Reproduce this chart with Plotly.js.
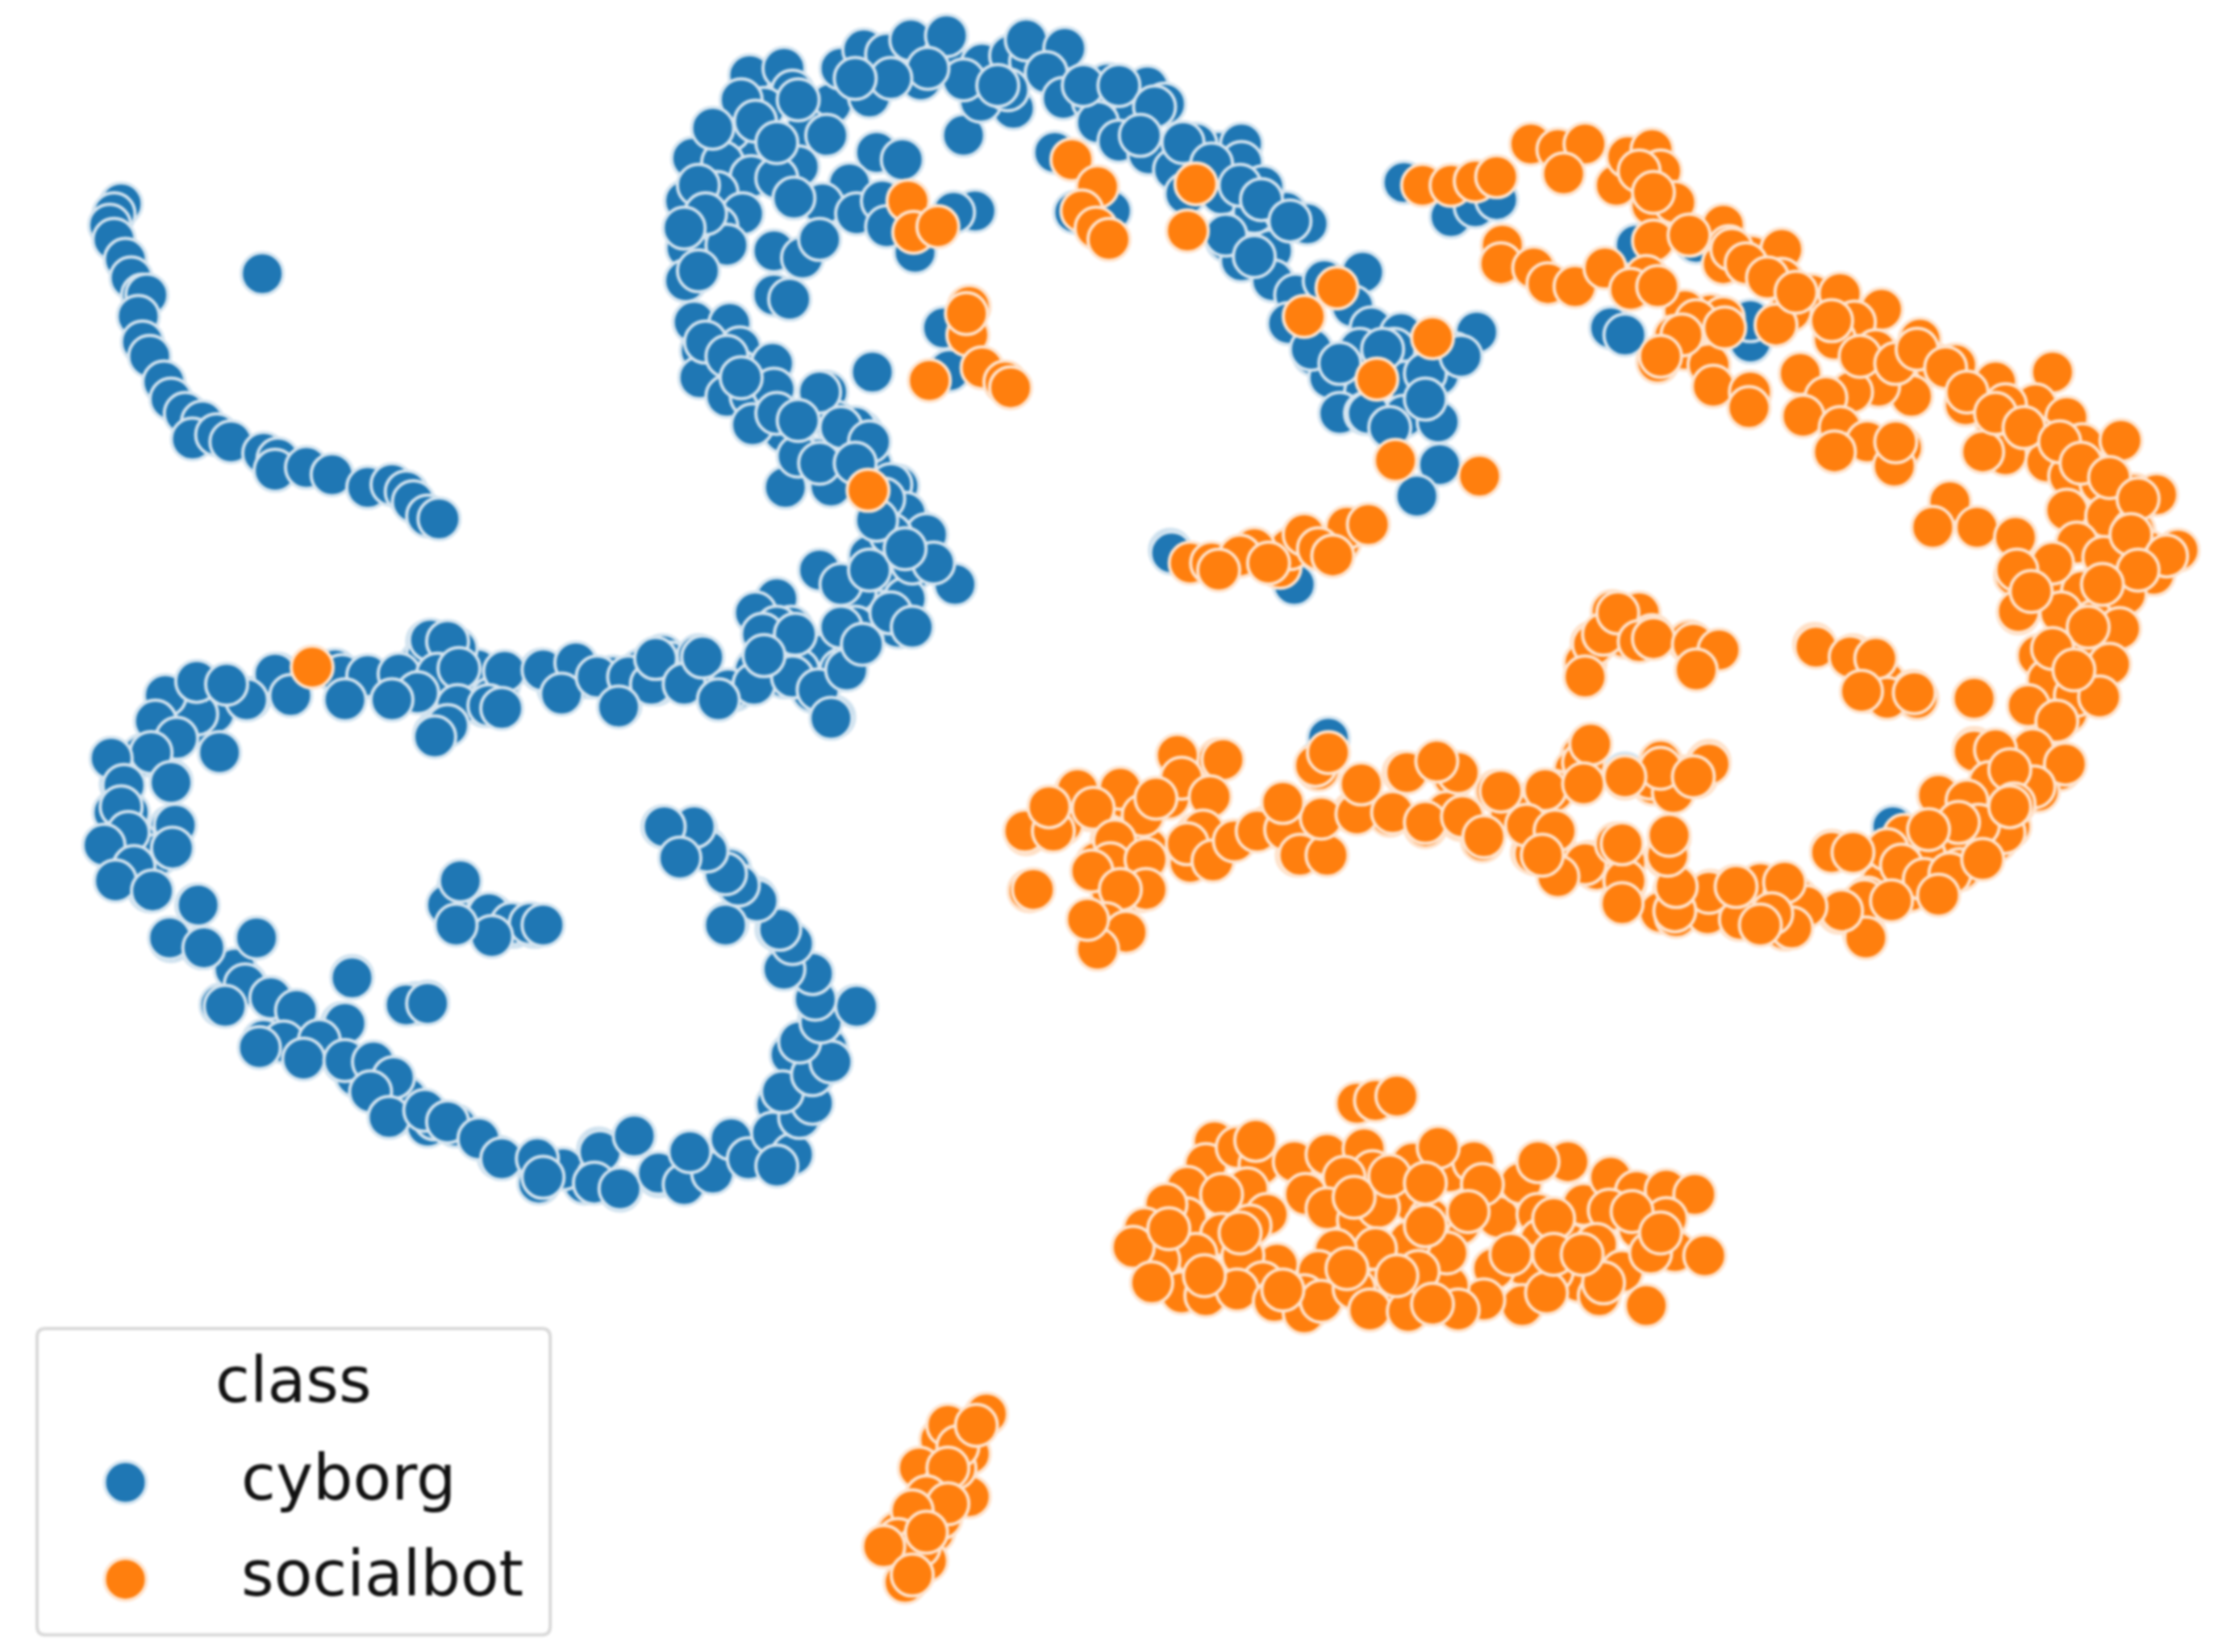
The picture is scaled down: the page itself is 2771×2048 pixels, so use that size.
<!DOCTYPE html>
<html>
<head>
<meta charset="utf-8">
<script src="https://cdn.plot.ly/plotly-3.0.1.min.js"></script>
<style>
html,body{margin:0;padding:0;background:#fff}
#chart{width:2771px;height:2048px;filter:blur(1.5px)}
</style>
</head>
<body>
<div id="chart"></div>
<script>
const cyborgX = [85,80,77,80,88,92,100,103,97,100,105,115,120,130,142,135,152,162,185,195,193,215,233,258,275,285,290,300,308,184,
526,550,556,536,583,590,606,622,639,662,646,664,689,709,723,720,747,734,610,566,523,512,486,507,560,527,545,503,481,521,615,633,596,577,601,557,503,482,510,543,563,575,481,543,554,487,512,492,519,491,518,542,510,527,543,580,586,550,528,604,574,588,611,551,583,630,625,640,618,648,612,676,711,688,707,676,651,746,767,777,796,805,817,770,785,806,824,855,871,871,839,832,857,880,902,917,886,861,892,871,893,909,929,956,949,904,962,922,954,983,978,933,958,987,1009,985,1009,940,958,1010,994,684,669,642,666,662,740,754,779,619,622,821,1036,1020,1000,
640,640,620,670,575,600,630,605,545,530,555,560,540,575,590,550,570,585,515,490,460,465,430,435,415,392,380,350,340,320,320,300,295,278,255,235,195,175,155,140,135,115,108,120,85,90,75,95,115,120,105,120,138,142,155,172,190,200,220,240,242,260,275,250,270,300,320,350,375,378,410,420,445,435,462,480,490,510,542,552,545,570,575,600,555,570,555,545,530,510,512,488,465,495,315,322,345,360,375,180,247,292,300,580,565,520,395,420,285,305,200,185,165,95,110,80,100,125,150,315,335,345,310,305,300,320,410,450,470,490,530,600,620,630,610,590,635,
822,908,932,925,1140,1328,1018,1035,1050,985,1130,1140,1228,1228,1148,1190,
600,575,590,560,575,610,625,635,650,625,640,655,610,625,640,600,590,545,535,560,
302,314,193,240,258,280,307,322,354,381,404,394,419,441,457,460,480,493,511,529,556,574,583,558,536,594,605,434,504,321,343,352,314,305,293,275,242,204,173,138,116,138,159,109,124,154,106,78,87,120,85,90,73,123,121,94,81,107,139,119,143,180,172,190,158,208,242,199,224,182,213,242,262,276,260,273,298,314,336,352,377,381,421,445,417,435,462,480,500,484,513,525,542,556,545,561,570,549,570,583,561,576,601,572,570,550,556,547,531,509,518,509,496,487,466,477,314,323,343,359,372,381,345,320,247,285,300,
560,520,500,530,545,580,625,600,700,760,785,810,800,830,850,870,885,905,860,880,920,940,960,975,1000,970,1025,490,495,480,490,495,510,520,545,560,600,620,615,635];
const cyborgY = [143,150,158,168,182,195,207,207,222,240,250,268,280,290,296,308,305,310,318,322,330,328,333,342,340,345,352,362,364,192,
53,48,64,76,73,48,35,38,28,40,56,25,45,39,43,28,34,51,68,91,100,91,111,114,117,124,125,135,141,150,107,112,129,143,150,139,159,174,172,176,181,168,197,207,210,226,227,246,244,265,260,255,278,278,273,275,296,303,298,303,322,326,326,342,341,341,354,369,379,381,261,95,76,71,63,56,48,69,71,59,80,61,73,86,99,108,119,107,101,114,101,136,136,149,149,157,131,169,176,183,197,207,197,191,215,227,230,249,245,234,245,265,275,268,263,292,296,290,290,326,348,148,149,177,260,230,107,149,148,141,159,386,233,248,262,
370,400,415,410,400,415,440,450,420,430,440,450,455,460,470,475,485,503,484,470,480,460,475,495,475,483,470,480,495,490,468,450,465,478,475,470,473,490,487,497,508,505,530,548,550,570,593,607,590,580,625,660,635,665,705,690,700,730,730,718,745,765,783,755,760,790,790,812,815,830,830,806,797,835,825,830,815,810,795,808,775,755,715,706,740,683,665,652,630,648,610,582,580,595,634,622,642,650,650,658,685,704,703,735,772,805,820,825,770,785,720,730,680,590,600,570,530,500,500,470,470,490,508,515,460,455,475,470,465,460,470,440,400,385,390,410,420,
388,410,518,535,543,580,152,145,140,128,230,235,240,225,172,170,
300,275,300,320,325,310,340,360,375,375,395,395,400,430,440,455,440,440,445,470,
449,450,473,474,474,473,473,469,471,470,465,487,475,475,480,462,480,461,484,480,475,484,504,445,460,470,452,496,491,495,495,497,509,517,486,491,491,488,491,501,488,478,480,506,518,528,528,532,551,549,566,584,593,579,595,608,618,625,635,658,665,658,691,700,706,709,718,731,730,735,743,744,745,756,766,784,779,787,799,813,813,826,808,797,830,834,823,831,823,808,799,813,795,810,818,784,774,766,754,745,731,717,706,701,683,680,662,652,632,649,621,613,597,580,580,602,635,618,641,648,648,649,657,649,686,705,704,
70,70,90,85,100,95,55,55,60,60,60,75,95,100,115,130,140,155,165,180,245,255,290,300,280,245,250,130,150,160,190,240,250,265,290,295,325,350,365,385];

const socialbotX = [637,641,658,752,770,759,769,778,839,833,938,915,1005,966,979,609,680,679,678,689,705,709,652,1038,219,
998,1018,1035,1050,1074,1093,1112,1097,1134,1142,1159,1165,1159,1175,1186,1160,1209,1213,1229,1250,1250,1209,1271,1291,1256,1246,1320,1301,1287,1316,1347,1333,1358,1372,1341,1318,1299,1263,1281,1265,1291,1310,1334,1329,1287,1200,1182,1209,1175,1163,1182,1199,1202,1228,1227,1054,1053,1076,1086,1105,1126,1155,1144,1163,
1379,1400,1440,1428,1407,1450,1401,1428,1407,1391,1461,1488,1436,1452,1474,1497,1513,1450,1478,1497,1457,1476,1507,1528,1511,1490,1416,1447,1469,1484,1368,1356,1387,1414,1414,1436,1461,1131,1150,1117,1140,1159,1187,1273,
1300,1322,1310,1342,1345,1385,1197,1185,1112,1118,1125,1112,1135,1150,1160,
1460,1440,1470,1435,1425,1395,1385,1445,1430,1420,1360,1410,1395,1380,1370,1340,1350,1330,1320,1310,1308,1285,1290,1265,1245,1235,1220,1200,1175,1165,1140,1115,1085,1075,1040,1025,1050,1020,985,1015,975,950,925,900,910,890,865,840,835,780,765,745,738,720,722,770,780,800,805,830,855,820,790,755,775,772,1110,1105,1080,1060,1140,1165,1160,1180,1198,1190,1375,1400,1260,1305,1350,1385,1405,1420,1450,1465,925,1090,1090,1000,1040,1120,1200,1250,1340,
835,850,898,905,940,945,960,915,880,870,925,935,890,855,
852,846,868,884,881,875,833,857,832,818,803,857,889,877,908,931,957,963,991,943,916,931,991,953,967,1017,1034,1009,1024,1003,1051,1067,1040,1079,1100,1079,1111,1130,1148,1169,1189,1169,1129,1150,1101,1081,1120,1175,1196,1138,1158,1108,1089,1068,1048,1155,1068,1041,1016,1015,989,965,937,925,896,872,839,813,795,886,829,846,868,894,915,915,927,966,950,961,988,995,1023,1085,1122,808,
900,1000,1030,1060,1090,1145,1165,870,820,845,950,975,1000,1090,1125,1005,980,945,1110,
952,965,980,
692,675,660,680,645,680,660,645,640,625,655,640,635,650,665,670,660,630,
672,665,650,665,640,630,645,620,640,650,685,
858,826,829,756,786,767,802,811,849,719,739,736,782,779,804,766,725,804,786,776,790,770,763,844,833,851,866,882,902,912,931,927,952,977,1000,900,955,923,932,987,1023,1008,1053,1084,1026,1041,1077,1071,1091,1112,1111,1116,1111,1140,1165,1174,1158,1199,1187,1134,1140,1171,1169,1176,1199,1217,1220,1176,1198,1138,1093,1252,1252,1237,1082,
1188,1206,1190,1274,1298,1316,1324,1306,1343,1385,1416,1446,1469,1491,1487,1463,1430,1480,1437,1456,1473,1423,1443,1426,1449,1427,1385,1400,1396,1410,1360,1380,1413,1406,1388,1374,1410,1336,1353,1324,1285,1300,1334,1350,1368,1391,1360,1308,1327,1309,1292,1267,1252,1257,1243,1221,1235,1199,1175,1176,1218,1140,1170,1171,1138,1138,1199,1174,1165,1188,1140,
1150,1160,1185,1215,1225,1240,1260,1285,1305,1330,1345,1365,1380,1400,1420,1445,1460,1480,1500,1495,1520,1500,1475,1440,1415,1425,1465,1440,1455,1190,1180,1165,1330,1210];
const socialbotY = [141,163,159,112,131,148,160,168,129,162,202,222,237,266,323,344,215,235,220,258,268,272,267,334,468,
130,130,127,124,101,105,101,122,130,110,105,120,144,142,165,169,158,173,180,175,196,185,207,206,218,228,217,226,238,246,238,256,256,256,278,271,275,262,279,292,300,310,314,327,317,221,218,223,236,254,245,256,271,275,286,172,185,188,199,201,188,194,203,201,
284,268,261,284,284,293,297,307,319,317,312,309,324,334,339,347,347,358,362,372,381,391,387,386,403,418,430,430,435,443,352,370,370,377,404,404,415,429,430,451,447,446,451,452,
460,478,485,485,490,490,457,450,465,452,445,475,430,450,448,
465,490,438,505,530,528,525,540,555,555,558,580,585,575,590,590,615,600,620,630,655,597,640,635,640,620,645,625,625,640,620,605,600,598,588,575,555,545,542,570,572,570,575,578,600,580,590,585,605,590,568,578,583,585,625,605,625,625,595,545,533,560,560,555,648,655,530,540,560,570,605,545,550,545,535,545,610,590,630,635,600,575,570,530,500,470,540,555,590,580,590,610,630,650,625,
395,395,398,385,380,370,368,375,385,390,385,390,395,400,
801,817,805,817,800,834,833,838,855,845,862,866,852,860,815,810,806,822,816,826,838,848,843,856,847,822,815,805,859,855,854,830,831,852,815,815,845,826,836,835,838,855,849,862,873,870,873,878,881,892,879,899,892,887,890,916,916,912,902,879,871,876,877,892,887,881,880,884,875,900,907,909,905,913,909,921,913,905,904,919,920,892,919,907,909,900,
905,860,850,880,855,850,865,865,862,895,840,825,830,880,900,915,895,890,880,
774,772,769,
992,1005,1010,1020,1030,1050,1045,1065,1080,1085,1075,1100,1110,1095,1000,1030,1065,1075,
1015,1030,1050,1055,1060,1080,1085,1085,1105,1075,1000,
533,530,546,554,553,567,572,560,559,583,583,566,590,606,603,611,624,624,624,648,654,666,645,583,592,604,590,583,582,600,600,574,571,570,577,563,550,537,528,542,542,534,555,554,573,587,599,579,583,606,535,522,550,546,534,554,546,534,545,592,618,588,601,622,626,622,645,643,641,633,615,628,652,645,600,
452,456,470,454,461,462,490,485,486,490,429,430,436,417,441,465,460,466,477,488,489,495,506,526,536,552,527,526,549,540,558,562,564,584,579,577,566,586,582,596,598,598,607,617,613,603,628,632,632,658,639,636,619,651,641,645,649,626,639,622,622,618,600,586,592,634,536,556,539,545,545,
120,135,165,175,185,195,205,225,250,255,245,258,275,290,300,310,325,335,350,375,390,400,410,395,400,415,440,455,470,225,235,250,310,230];

const legendTitle = 'class';
const classNames = ['cyborg', 'socialbot'];
const classColors = ['#1f77b4', '#ff7f0e'];
const edgeColors = ['#d3e4f0', '#ffe3cc'];

function points(x, y, i) {
    return {
        x: x, y: y, name: classNames[i], type: 'scatter', mode: 'markers', showlegend: false, hoverinfo: 'skip',
        marker: { size: 52, color: classColors[i], line: { color: edgeColors[i], width: 4 } }
    };
}

const axis = { visible: false, showgrid: false, zeroline: false, fixedrange: true };
const labelFont = { family: 'DejaVu Sans', size: 78, color: '#111111' };

// key dots of the legend, plotly clamps its own legend symbols to 16px
const keyX = [88], keyY = [1040, 1108];
const traces = [
    points(cyborgX, cyborgY, 0),
    points(socialbotX, socialbotY, 1),
    points(keyX, [keyY[0]], 0),
    points(keyX, [keyY[1]], 1)
];

const layout = {
    width: 2771, height: 2048,
    margin: { l: 0, r: 0, t: 0, b: 0 },
    paper_bgcolor: '#fff', plot_bgcolor: 'rgba(0,0,0,0)',
    xaxis: Object.assign({ range: [0, 1568] }, axis),
    yaxis: Object.assign({ range: [1159, 0] }, axis),
    shapes: [{
        type: 'path', layer: 'below', xref: 'x', yref: 'y',
        path: 'M 32 932 L 380 932 Q 386 932 386 938 L 386 1141 Q 386 1147 380 1147 L 32 1147 Q 26 1147 26 1141 L 26 938 Q 26 932 32 932 Z',
        fillcolor: '#fff', line: { color: '#d8d8d8', width: 4 }
    }],
    annotations: [
        { text: legendTitle, x: 206, y: 968, xanchor: 'center', yanchor: 'middle', showarrow: false, font: labelFont },
        { text: classNames[0], x: 168, y: 1037, xanchor: 'left', yanchor: 'middle', showarrow: false, font: labelFont },
        { text: classNames[1], x: 168, y: 1104, xanchor: 'left', yanchor: 'middle', showarrow: false, font: labelFont }
    ]
};

Plotly.newPlot('chart', traces, layout, { displayModeBar: false, staticPlot: true });
</script>
</body>
</html>
